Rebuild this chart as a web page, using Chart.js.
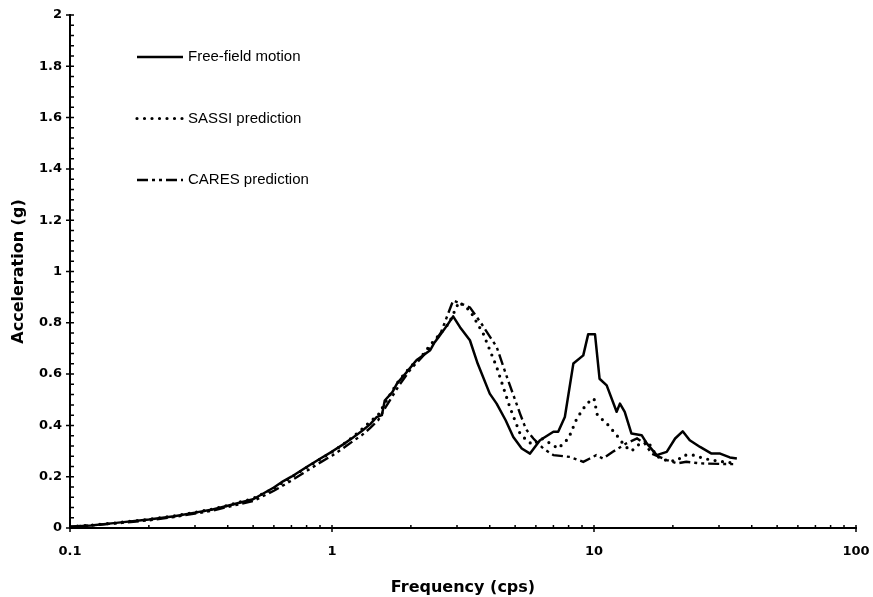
<!DOCTYPE html>
<html>
<head>
<meta charset="utf-8">
<title>Acceleration spectra</title>
<script src="https://cdn.jsdelivr.net/npm/chart.js@4.4.1/dist/chart.umd.min.js"></script>
<style>
  html, body { margin: 0; padding: 0; background: #fff; }
  #chart { display: block; }
</style>
</head>
<body>
<canvas id="chart" width="873" height="597"></canvas>
<script>
// series (frequency in cps, acceleration in g)
const freeFieldFreq = [0.1, 0.12, 0.15, 0.2, 0.25, 0.3, 0.35, 0.4, 0.5, 0.6, 0.65, 0.7, 0.8, 0.9, 1.0, 1.1, 1.2, 1.3, 1.4, 1.48, 1.55, 1.59, 1.7, 1.77, 1.9, 2.1, 2.37, 2.45, 2.55, 2.75, 2.9, 3.08, 3.36, 3.6, 4.0, 4.25, 4.6, 4.92, 5.3, 5.7, 6.22, 7.0, 7.3, 7.74, 8.34, 9.1, 9.5, 10.09, 10.5, 11.18, 12.2, 12.56, 13.1, 13.9, 15.2, 15.9, 17.35, 18.95, 20.4, 21.8, 23.2, 25.4, 28.1, 30.3, 33.0, 35.1];
const freeFieldAccel = [0.005, 0.01, 0.02, 0.033, 0.046, 0.06, 0.072, 0.087, 0.112, 0.158, 0.182, 0.2, 0.238, 0.27, 0.298, 0.325, 0.352, 0.378, 0.405, 0.432, 0.44, 0.497, 0.53, 0.563, 0.6, 0.654, 0.693, 0.72, 0.744, 0.79, 0.825, 0.783, 0.732, 0.64, 0.524, 0.485, 0.42, 0.355, 0.31, 0.29, 0.342, 0.375, 0.375, 0.433, 0.641, 0.673, 0.755, 0.755, 0.582, 0.556, 0.453, 0.485, 0.453, 0.368, 0.362, 0.33, 0.284, 0.297, 0.349, 0.377, 0.342, 0.316, 0.29, 0.29, 0.275, 0.271];

const sassiFreq = [0.1, 0.12, 0.15, 0.2, 0.25, 0.3, 0.35, 0.4, 0.5, 0.6, 0.7, 0.8, 0.9, 1.0, 1.1, 1.2, 1.3, 1.4, 1.5, 1.6, 1.7, 1.8, 2.0, 2.2, 2.4, 2.5, 2.6, 2.8, 3.05, 3.36, 3.78, 4.25, 4.77, 5.22, 5.6, 5.87, 6.3, 6.8, 7.3, 8.0, 8.6, 9.38, 10.0, 10.3, 11.2, 12.2, 13.1, 13.9, 15.0, 16.0, 17.35, 19.0, 20.7, 22.0, 24.0, 26.5, 30.0, 33.0, 35.0];
const sassiAccel = [0.006, 0.011, 0.02, 0.034, 0.047, 0.061, 0.074, 0.088, 0.115, 0.155, 0.198, 0.236, 0.268, 0.296, 0.325, 0.355, 0.385, 0.415, 0.44, 0.49, 0.535, 0.575, 0.63, 0.67, 0.72, 0.74, 0.76, 0.8, 0.881, 0.848, 0.757, 0.628, 0.472, 0.368, 0.336, 0.325, 0.35, 0.33, 0.31, 0.35, 0.427, 0.485, 0.505, 0.44, 0.407, 0.362, 0.32, 0.3, 0.33, 0.34, 0.28, 0.262, 0.262, 0.284, 0.284, 0.27, 0.26, 0.255, 0.255];

const caresFreq = [0.1, 0.12, 0.15, 0.2, 0.25, 0.3, 0.35, 0.4, 0.5, 0.6, 0.7, 0.8, 0.9, 1.0, 1.1, 1.2, 1.3, 1.4, 1.5, 1.6, 1.8, 2.0, 2.2, 2.4, 2.6, 2.9, 3.1, 3.36, 3.7, 4.25, 4.65, 5.22, 5.5, 5.87, 6.4, 7.0, 8.1, 9.1, 9.6, 10.2, 10.8, 11.8, 13.3, 14.6, 15.6, 16.6, 18.95, 20.7, 22.5, 25.4, 30.0, 34.0];
const caresAccel = [0.005, 0.01, 0.018, 0.03, 0.043, 0.056, 0.068, 0.082, 0.105, 0.145, 0.185, 0.222, 0.255, 0.282, 0.31, 0.338, 0.362, 0.39, 0.42, 0.47, 0.555, 0.62, 0.665, 0.71, 0.76, 0.887, 0.875, 0.86, 0.8, 0.706, 0.589, 0.446, 0.385, 0.349, 0.31, 0.284, 0.277, 0.258, 0.27, 0.284, 0.271, 0.297, 0.33, 0.349, 0.33, 0.29, 0.265, 0.252, 0.258, 0.252, 0.25, 0.249];

const seriesLabels = ['Free-field motion', 'SASSI prediction', 'CARES prediction'];
const xTickValues = [0.1, 1, 10, 100];
const yMin = 0, yMax = 2, yStep = 0.2, yMinorStep = 0.04;

function toPoints(xs, ys) {
    return xs.map((x, i) => ({ x: x, y: ys[i] }));
}

const tickFont = { family: "'DejaVu Sans', sans-serif", size: 13, weight: 'bold' };
const titleFont = { family: "'DejaVu Sans', sans-serif", size: 16, weight: 'bold' };

// tick marks on both axes (major ones cross the axis, minor ones sit inside)
const axisMarks = {
    id: 'axisMarks',
    afterDraw(chart) {
        const ctx = chart.ctx;
        const xs = chart.scales.x, ys = chart.scales.y;
        const left = chart.chartArea.left, bottom = chart.chartArea.bottom;
        ctx.save();
        ctx.strokeStyle = '#000';
        ctx.lineWidth = 1.5;
        ctx.beginPath();
        const n = Math.round((yMax - yMin) / yMinorStep);
        for (let i = 0; i <= n; i++) {
            const v = yMin + i * yMinorStep;
            const py = ys.getPixelForValue(v);
            const major = i % Math.round(yStep / yMinorStep) === 0;
            ctx.moveTo(major ? left - 4 : left, py);
            ctx.lineTo(left + 4, py);
        }
        for (let d = 0; d < xTickValues.length; d++) {
            const dec = xTickValues[d];
            const px = xs.getPixelForValue(dec);
            ctx.moveTo(px, bottom - 3);
            ctx.lineTo(px, bottom + 4);
            if (d === xTickValues.length - 1) break;
            for (let m = 2; m <= 9; m++) {
                const pm = xs.getPixelForValue(dec * m);
                ctx.moveTo(pm, bottom - 3);
                ctx.lineTo(pm, bottom);
            }
        }
        ctx.stroke();
        ctx.restore();
    }
};

// legend drawn inside the plot, one row per series
const insideLegend = {
    id: 'insideLegend',
    afterDraw(chart) {
        const ctx = chart.ctx;
        const area = chart.chartArea;
        ctx.save();
        chart.data.datasets.forEach((ds, i) => {
            const rowY = area.top + 42 + i * 61.5;
            const x0 = area.left + 67, x1 = area.left + 113;
            ctx.strokeStyle = ds.borderColor;
            ctx.lineWidth = ds.borderWidth;
            ctx.lineCap = ds.borderCapStyle || 'butt';
            ctx.setLineDash(ds.borderDash || []);
            ctx.beginPath();
            ctx.moveTo(x0, rowY);
            ctx.lineTo(x1, rowY);
            ctx.stroke();
            ctx.setLineDash([]);
            ctx.fillStyle = '#000';
            ctx.font = "15px 'Liberation Sans', Arial, sans-serif";
            ctx.textBaseline = 'middle';
            ctx.fillText(ds.label, x1 + 5, rowY);
        });
        ctx.restore();
    }
};

const ctx = document.getElementById('chart').getContext('2d');
new Chart(ctx, {
    type: 'line',
    data: {
        datasets: [
            {
                label: seriesLabels[0],
                data: toPoints(freeFieldFreq, freeFieldAccel),
                borderColor: '#000',
                borderWidth: 2.5,
                borderJoinStyle: 'round'
            },
            {
                label: seriesLabels[1],
                data: toPoints(sassiFreq, sassiAccel),
                borderColor: '#000',
                borderWidth: 3.2,
                borderDash: [0, 7.5],
                borderCapStyle: 'round'
            },
            {
                label: seriesLabels[2],
                data: toPoints(caresFreq, caresAccel),
                borderColor: '#000',
                borderWidth: 2.4,
                borderDash: [11, 4, 3, 4, 3, 4],
                borderCapStyle: 'butt'
            }
        ]
    },
    options: {
        responsive: false,
        animation: false,
        layout: { padding: { top: 15, right: 17, left: 0, bottom: 0 } },
        elements: {
            point: { radius: 0, hoverRadius: 0 },
            line: { tension: 0, fill: false }
        },
        plugins: {
            legend: { display: false },
            tooltip: { enabled: false }
        },
        scales: {
            x: {
                type: 'logarithmic',
                min: 0.1,
                max: 100,
                afterBuildTicks(scale) {
                    scale.ticks = xTickValues.map(v => ({ value: v }));
                },
                afterFit(scale) {
                    scale.height = 69;
                    scale.paddingLeft = 0;
                    scale.paddingRight = 0;
                },
                grid: { display: false, drawTicks: false },
                border: { display: true, color: '#000', width: 2 },
                ticks: {
                    color: '#000',
                    font: tickFont,
                    padding: 16,
                    maxRotation: 0,
                    autoSkip: false,
                    callback: v => String(v)
                },
                title: {
                    display: true,
                    text: 'Frequency (cps)',
                    color: '#000',
                    font: titleFont,
                    padding: { top: 2, bottom: 0 }
                }
            },
            y: {
                min: yMin,
                max: yMax,
                afterFit(scale) {
                    scale.width = 70;
                    scale.paddingTop = 0;
                    scale.paddingBottom = 0;
                },
                grid: { display: false, drawTicks: false },
                border: { display: true, color: '#000', width: 2 },
                ticks: {
                    stepSize: yStep,
                    color: '#000',
                    font: tickFont,
                    padding: 8,
                    callback: v => String(Number(v.toFixed(1)))
                },
                title: {
                    display: true,
                    text: 'Acceleration (g)',
                    color: '#000',
                    font: titleFont,
                    padding: { top: 9, bottom: 0 }
                }
            }
        }
    },
    plugins: [axisMarks, insideLegend]
});
</script>
</body>
</html>
